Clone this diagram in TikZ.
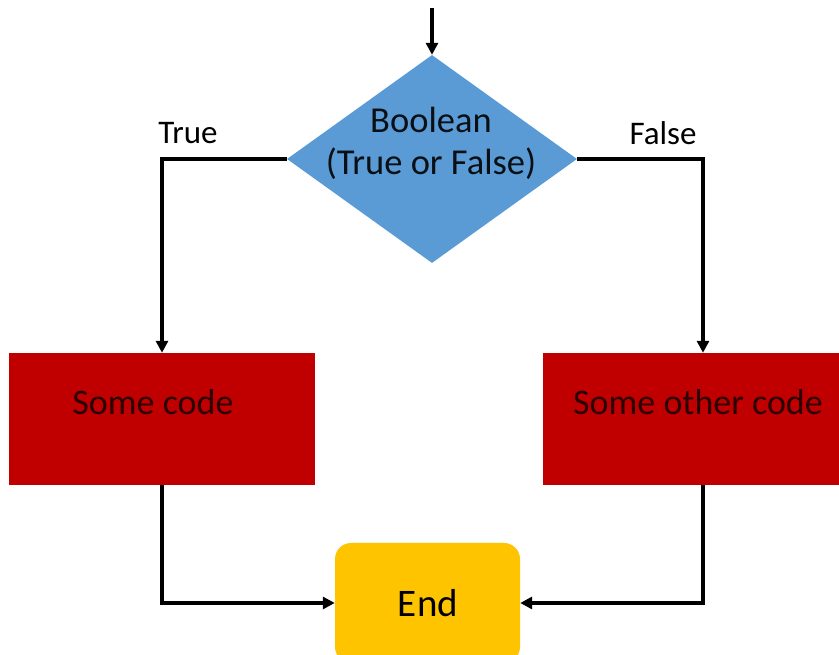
\documentclass[tikz,border=0pt]{standalone}
\usepackage{fontspec}
\setmainfont{Carlito}
\usetikzlibrary{shapes.geometric,arrows.meta}
\definecolor{dblue}{HTML}{5B9BD5}
\definecolor{dred}{HTML}{C00000}
\definecolor{dgold}{HTML}{FFC400}
\definecolor{dtxt}{HTML}{2A0000}
\tikzset{
  conn/.style={line width=3.2pt,-{Triangle[length=12pt,width=12pt]}},
  codebox/.style={rectangle,fill=dred,draw=none,minimum width=306pt,minimum height=132pt,inner sep=0pt},
  lbl/.style={inner sep=0pt,font=\fontsize{33}{40}\selectfont},
}
\begin{document}
\begin{tikzpicture}[x=1pt,y=1pt]
\useasboundingbox (0,0) rectangle (839,655);
\clip (0,0) rectangle (839,655);
\node[diamond,fill=dblue,draw=none,minimum width=290pt,minimum height=208pt,inner sep=0pt] (d) at (432,496) {};
\node[align=center,inner sep=0pt,font=\fontsize{36.5}{42}\selectfont,text=black!90!dblue] (dt) at (431,512) {Boolean\\(True or False)};
\node[codebox] (s1) at (162,236) {};
\node[text=dtxt,inner sep=0pt,font=\fontsize{36}{43}\selectfont] (s1t) at (153,253) {Some code};
\node[codebox,anchor=west] (s2) at (543,236) {};
\node[text=dtxt,inner sep=0pt,font=\fontsize{36}{43}\selectfont] (s2t) at (698,253) {Some other code};
\node[rectangle,rounded corners=16pt,fill=dgold,draw=none,minimum width=185pt,minimum height=120pt,inner sep=0pt] (e) at (427.5,52) {};
\node[inner sep=0pt,font=\fontsize{39}{46}\selectfont] (et) at (428,52) {End};
\node[lbl] (tl) at (188,522) {True};
\node[lbl] (fl) at (663,522) {False};
\coordinate (start) at (432,647);
\coordinate (rc) at (703,0);
\draw[conn] (start) -- (d.north);
\draw[conn] (d.west) -| (s1.north);
\draw[conn] (d.east) -| (s2.north -| rc);
\draw[conn] (s1.south) |- (e.west);
\draw[conn] (s2.south -| rc) |- (e.east);
\end{tikzpicture}
\end{document}
